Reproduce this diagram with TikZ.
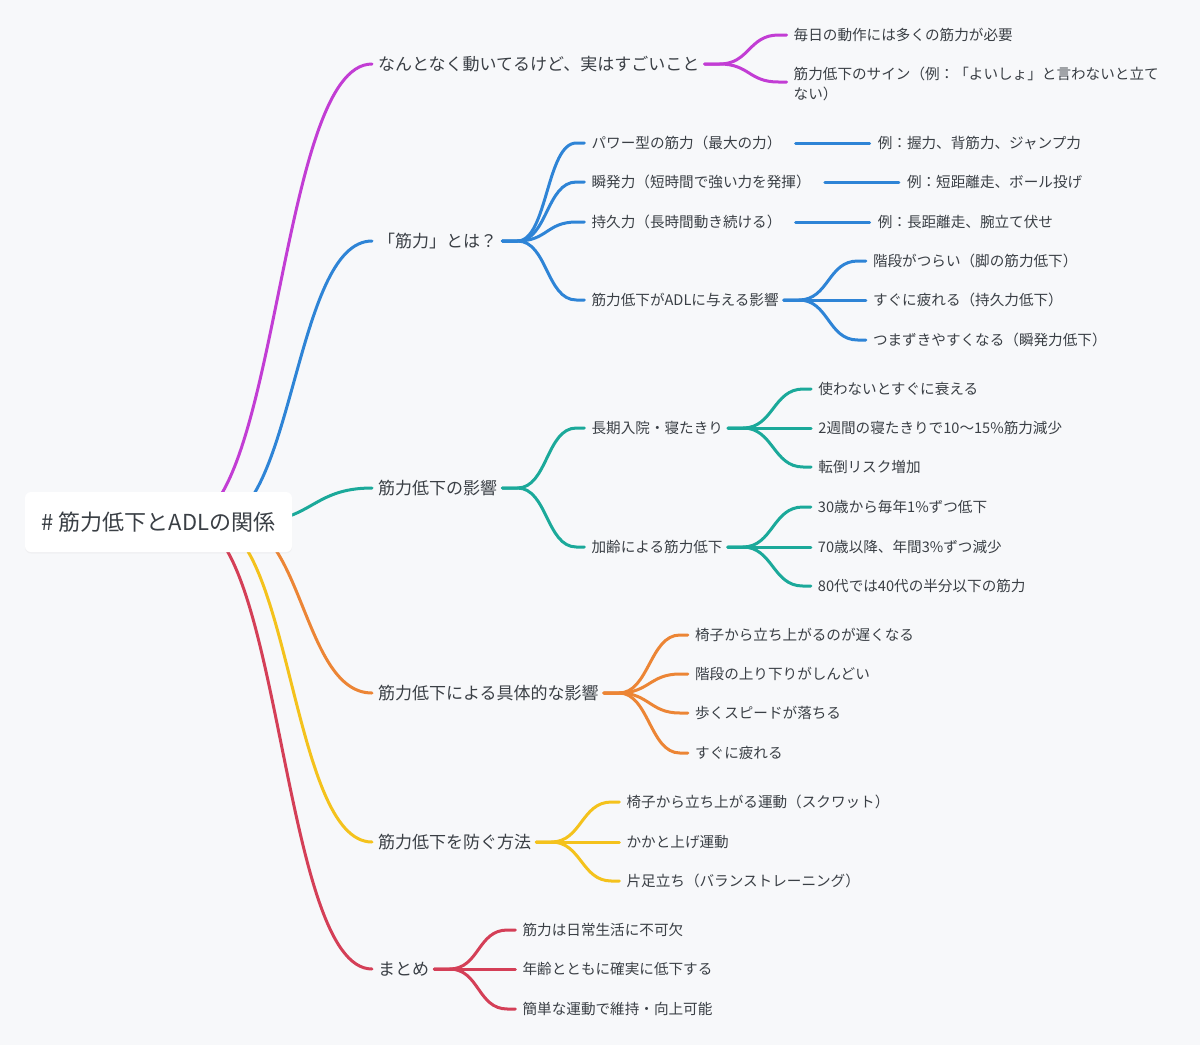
\documentclass[tikz,border=0pt]{standalone}
\usepackage{fontspec}
\setmainfont{Noto Sans CJK JP}
\usetikzlibrary{positioning,shadows}
\definecolor{bgc}{HTML}{F7F8FA}
\definecolor{txt}{HTML}{3A3F45}
\definecolor{cmag}{HTML}{C23DD4}
\definecolor{cblu}{HTML}{2E84D6}
\definecolor{ctea}{HTML}{1BA99A}
\definecolor{cora}{HTML}{EC8535}
\definecolor{cyel}{HTML}{F4C21C}
\definecolor{cred}{HTML}{D43F57}
\pgfdeclarelayer{back}
\pgfdeclarelayer{links}
\pgfsetlayers{back,links,main}
\tikzset{
  txtnode/.style={inner sep=0pt, text=txt, text depth=0pt},
  rootbox/.style={txtnode, text height=16.7pt, fill=white, rounded corners=6pt, minimum width=267pt, minimum height=60pt,
    font=\fontsize{22}{26}\selectfont, drop shadow={shadow xshift=0pt, shadow yshift=-1.5pt, opacity=.06}},
  lvone/.style={txtnode, text height=12.9pt, anchor=west, font=\fontsize{17}{20}\selectfont},
  lvtwo/.style={txtnode, text height=11.1pt, font=\fontsize{14.6}{20}\selectfont},
  link/.style={line width=3pt, line cap=round},
}
% 親から子への枝
\newcommand\mmlink[3]{\draw[link,#1] ([xshift=5pt]#2.east) -- ++(15,0) .. controls +(30,0) and +(-30,0) .. ([xshift=-15pt]#3.west) -- ([xshift=-7pt]#3.west);}
% 中心から出る枝
\newcommand\rootlink[4]{\draw[link,#1] ([xshift=#2pt]root.center) .. controls +(#3,0) and +(-#3,0) .. ([xshift=-6pt]#4.west);}
\begin{document}
\begin{tikzpicture}[x=1pt, y=-1pt]
  \begin{pgfonlayer}{back}
    \fill[bgc] (0,0) rectangle (1200,1045);
  \end{pgfonlayer}
  \useasboundingbox (0,0) rectangle (1200,1045);

  \node[rootbox] (root) at (158.5,522) {\# 筋力低下とADLの関係};

  % 第一階層
  \node[lvone] (mag) at (378,64) {なんとなく動いてるけど、実はすごいこと};
  \node[lvone] (blu) at (378,241) {「筋力」とは？};
  \node[lvone] (tea) at (378,488) {筋力低下の影響};
  \node[lvone] (ora) at (378,693) {筋力低下による具体的な影響};
  \node[lvone] (yel) at (378,842) {筋力低下を防ぐ方法};
  \node[lvone] (red) at (378,969) {まとめ};

  % 紫
  \node[lvtwo, right=94pt of mag, yshift=29pt] (mag1) {毎日の動作には多くの筋力が必要};
  \node[lvtwo, right=94pt of mag, yshift=-20pt, text height=, text depth=, align=left] (mag2)
    {筋力低下のサイン（例：「よいしょ」と言わないと立て\\ない）};

  % 青
  \node[lvtwo, right=94pt of blu, yshift=98pt] (blu1) {パワー型の筋力（最大の力）};
  \node[lvtwo, right=94pt of blu, yshift=59pt] (blu2) {瞬発力（短時間で強い力を発揮）};
  \node[lvtwo, right=94pt of blu, yshift=19pt] (blu3) {持久力（長時間動き続ける）};
  \node[lvtwo, right=94pt of blu, yshift=-59pt] (blu4) {筋力低下がADLに与える影響};
  \node[lvtwo, right=96pt of blu1] (blu1x) {例：握力、背筋力、ジャンプ力};
  \node[lvtwo, right=96pt of blu2] (blu2x) {例：短距離走、ボール投げ};
  \node[lvtwo, right=96pt of blu3] (blu3x) {例：長距離走、腕立て伏せ};
  \node[lvtwo, right=94pt of blu4, yshift=39pt] (blu41) {階段がつらい（脚の筋力低下）};
  \node[lvtwo, right=94pt of blu4] (blu42) {すぐに疲れる（持久力低下）};
  \node[lvtwo, right=94pt of blu4, yshift=-40pt] (blu43) {つまずきやすくなる（瞬発力低下）};

  % 緑
  \node[lvtwo, right=94pt of tea, yshift=60pt] (tea1) {長期入院・寝たきり};
  \node[lvtwo, right=94pt of tea, yshift=-59pt] (tea2) {加齢による筋力低下};
  \node[lvtwo, right=95pt of tea1, yshift=39pt] (tea11) {使わないとすぐに衰える};
  \node[lvtwo, right=95pt of tea1] (tea12) {2週間の寝たきりで10〜15\%筋力減少};
  \node[lvtwo, right=95pt of tea1, yshift=-39pt] (tea13) {転倒リスク増加};
  \node[lvtwo, right=95pt of tea2, yshift=40pt] (tea21) {30歳から毎年1\%ずつ低下};
  \node[lvtwo, right=95pt of tea2] (tea22) {70歳以降、年間3\%ずつ減少};
  \node[lvtwo, right=95pt of tea2, yshift=-39pt] (tea23) {80代では40代の半分以下の筋力};

  % 橙
  \node[lvtwo, right=96pt of ora, yshift=58pt] (ora1) {椅子から立ち上がるのが遅くなる};
  \node[lvtwo, right=96pt of ora, yshift=19pt] (ora2) {階段の上り下りがしんどい};
  \node[lvtwo, right=96pt of ora, yshift=-20pt] (ora3) {歩くスピードが落ちる};
  \node[lvtwo, right=96pt of ora, yshift=-60pt] (ora4) {すぐに疲れる};

  % 黄
  \node[lvtwo, right=95pt of yel, yshift=40pt] (yel1) {椅子から立ち上がる運動（スクワット）};
  \node[lvtwo, right=95pt of yel] (yel2) {かかと上げ運動};
  \node[lvtwo, right=95pt of yel, yshift=-39pt] (yel3) {片足立ち（バランストレーニング）};

  % 赤
  \node[lvtwo, right=93pt of red, yshift=39pt] (red1) {筋力は日常生活に不可欠};
  \node[lvtwo, right=93pt of red] (red2) {年齢とともに確実に低下する};
  \node[lvtwo, right=93pt of red, yshift=-40pt] (red3) {簡単な運動で維持・向上可能};

  \begin{pgfonlayer}{links}
    \rootlink{cmag}{26.5}{93.5}{mag}
    \rootlink{cblu}{57.5}{78}{blu}
    \rootlink{ctea}{93.5}{60}{tea}
    \rootlink{cora}{75.5}{69}{ora}
    \rootlink{cyel}{51.5}{81}{yel}
    \rootlink{cred}{32.5}{90.5}{red}

    \mmlink{cmag}{mag}{mag1}
    \draw[link,cmag] ([xshift=5pt]mag.east) -- ++(15,0) .. controls +(30,0) and +(-30,0) .. ([xshift=-15pt,yshift=2pt]mag2.west) -- ([xshift=-7pt,yshift=2pt]mag2.west);

    \foreach \c in {blu1,blu2,blu3,blu4} {\mmlink{cblu}{blu}{\c}}
    \foreach \c in {blu1,blu2,blu3} {\draw[link,cblu] ([xshift=14pt]\c.east) -- ([xshift=-8pt]\c x.west);}
    \foreach \c in {blu41,blu42,blu43} {\mmlink{cblu}{blu4}{\c}}

    \foreach \c in {tea1,tea2} {\mmlink{ctea}{tea}{\c}}
    \foreach \c in {tea11,tea12,tea13} {\mmlink{ctea}{tea1}{\c}}
    \foreach \c in {tea21,tea22,tea23} {\mmlink{ctea}{tea2}{\c}}

    \foreach \c in {ora1,ora2,ora3,ora4} {\mmlink{cora}{ora}{\c}}
    \foreach \c in {yel1,yel2,yel3} {\mmlink{cyel}{yel}{\c}}
    \foreach \c in {red1,red2,red3} {\mmlink{cred}{red}{\c}}
  \end{pgfonlayer}
\end{tikzpicture}
\end{document}
